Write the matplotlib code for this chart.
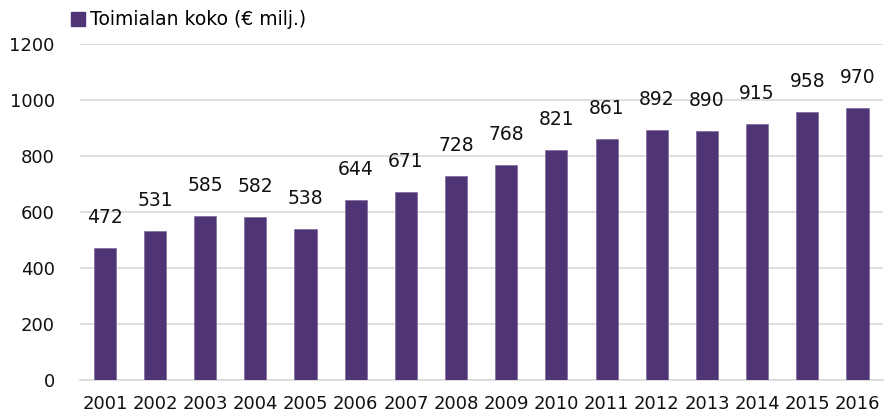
import matplotlib.pyplot as plt
from matplotlib.patches import Patch

years = ["2001", "2002", "2003", "2004", "2005", "2006", "2007", "2008",
         "2009", "2010", "2011", "2012", "2013", "2014", "2015", "2016"]
values = [472, 531, 585, 582, 538, 644, 671, 728, 768, 821, 861, 892, 890, 915, 958, 970]
series_name = "Toimialan koko (€ milj.)"

bar_color = "#4f3575"
plt.rcParams["font.family"] = ["DejaVu Sans"]

fig = plt.figure(figsize=(8.96, 4.18), dpi=100)
ax = fig.add_axes([0.089, 0.091, 0.896, 0.804])

x = range(len(years))
bars = ax.bar(x, values, width=0.44, color=bar_color, edgecolor="#7e6a9c",
              linewidth=0.5, zorder=3)
for b, v in zip(bars, values):
    ax.annotate(str(v), (b.get_x() + b.get_width() / 2, v), xytext=(0, 15),
                textcoords="offset points", ha="center", va="bottom",
                fontsize=13.5, color="#111111")

ax.set_xlim(-0.5, len(years) - 0.5)
ax.set_ylim(0, 1200)
ax.set_yticks(range(0, 1201, 200))
ax.set_xticks(list(x))
ax.set_xticklabels(years)
ax.tick_params(axis="both", length=0, labelsize=13, colors="#111111")
ax.tick_params(axis="x", pad=11)
ax.tick_params(axis="y", pad=18)
ax.grid(axis="y", color="#d9d9d9", linewidth=1.2, zorder=0)
for s in ["top", "right", "left"]:
    ax.spines[s].set_visible(False)
ax.spines["bottom"].set_color("#d9d9d9")
ax.spines["bottom"].set_linewidth(1.2)

fig.legend(handles=[Patch(color=bar_color)], labels=[series_name],
           loc="upper left", bbox_to_anchor=(0.068, 1.0), frameon=False,
           fontsize=13.5, handlelength=0.75, handleheight=0.75, handletextpad=0.25,
           borderaxespad=0.15)

fig.savefig("out.png", dpi=100)
